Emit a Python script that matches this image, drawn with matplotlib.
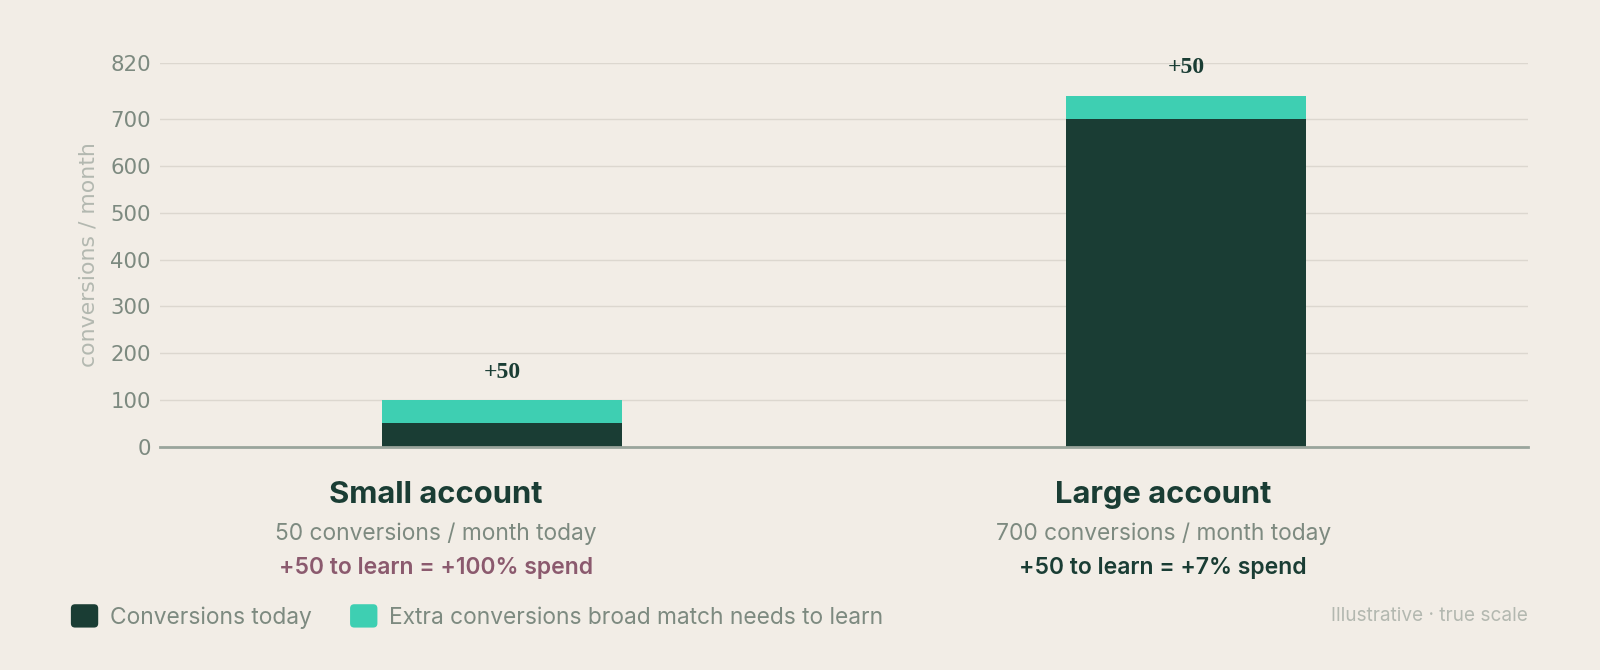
import matplotlib
matplotlib.use("Agg")
import matplotlib.pyplot as plt
from matplotlib.patches import Patch, FancyBboxPatch
from matplotlib.legend_handler import HandlerPatch

categories = ["Small account", "Large account"]
today = [50, 700]
extra = [50, 50]
subtitles = ["50 conversions / month today", "700 conversions / month today"]
notes = ["+50 to learn = +100% spend", "+50 to learn = +7% spend"]
yticks = [0, 100, 200, 300, 400, 500, 600, 700, 820]

BG = "#f2ede6"
DARK = "#1a3d34"
TEAL = "#3ecfb2"
GRAY = "#7d8a80"
LIGHT = "#b3b8b0"
MAUVE = "#8b5a6e"

plt.rcParams['font.family'] = ['Inter', 'DejaVu Sans']


class RoundHandler(HandlerPatch):
    def create_artists(self, legend, orig_handle, xdescent, ydescent, width, height, fontsize, trans):
        p = FancyBboxPatch((-xdescent, -ydescent), width, height,
                           boxstyle="round,pad=0,rounding_size=3",
                           facecolor=orig_handle.get_facecolor(), edgecolor="none",
                           transform=trans)
        return [p]


fig = plt.figure(figsize=(16, 6.7), dpi=100, facecolor=BG)
ax = fig.add_axes([0.1, 0.333, 0.855, 0.573], facecolor=BG)

x = list(range(len(categories)))
ax.bar(x, today, width=0.35, color=DARK, zorder=3)
ax.bar(x, extra, width=0.35, bottom=today, color=TEAL, zorder=3)
for xi, t, e in zip(x, today, extra):
    ax.annotate(f"+{e}", (xi, t + e), xytext=(0, 20), textcoords="offset points",
                ha="center", va="center", fontsize=17, fontweight="bold",
                family=["Liberation Serif"], color=DARK)

ax.set_xlim(-0.5, 1.5)
ax.set_ylim(0, 820)
ax.set_yticks(yticks)
ax.set_xticks([])
ax.tick_params(axis="y", length=0, pad=6.5, labelsize=15.3, labelcolor=GRAY)
for lab in ax.get_yticklabels():
    lab.set_family("DejaVu Sans")
ax.grid(axis="y", color="#dcd7cf", linewidth=1, zorder=0)
for s in ["top", "right", "left"]:
    ax.spines[s].set_visible(False)
ax.spines["bottom"].set_color("#9aa59c")
ax.spines["bottom"].set_linewidth(2)
ax.spines["bottom"].set_zorder(4)
ax.set_ylabel("conversions / month", fontsize=15.8, color=LIGHT, family="DejaVu Sans")
ax.yaxis.set_label_coords(-0.0446, 0.5)

label_x = [0.2725, 0.727]
note_colors = [MAUVE, DARK]
for lx, c, s, n, nc in zip(label_x, categories, subtitles, notes, note_colors):
    fig.text(lx, 0.261, c, ha="center", va="center", fontsize=22.3, fontweight="bold", color=DARK)
    fig.text(lx, 0.204, s, ha="center", va="center", fontsize=16.4, color=GRAY)
    fig.text(lx, 0.152, n, ha="center", va="center", fontsize=16.5, fontweight="semibold", color=nc)

handles = [Patch(facecolor=DARK, label="Conversions today"),
           Patch(facecolor=TEAL, label="Extra conversions broad match needs to learn")]
leg = fig.legend(handles=handles, loc="center left", bbox_to_anchor=(0.0443, 0.08), ncol=2,
                 frameon=False, fontsize=16.4, handlelength=1.2, handleheight=1.2,
                 handletextpad=0.5, columnspacing=1.7, borderaxespad=0, borderpad=0,
                 handler_map={Patch: RoundHandler()})
for t in leg.get_texts():
    t.set_color(GRAY)

fig.text(0.955, 0.08, "Illustrative · true scale", ha="right", va="center", fontsize=13.7, color=LIGHT)

fig.savefig("out.png", dpi=100, facecolor=BG)
